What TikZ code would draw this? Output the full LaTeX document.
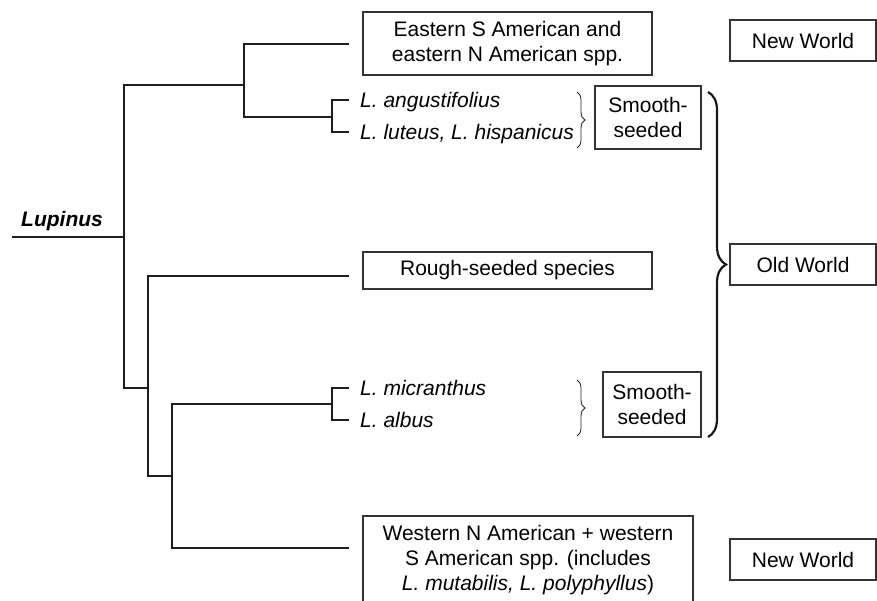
\documentclass[tikz,border=0pt]{standalone}
\usepackage{fontspec}
\setmainfont{Liberation Sans}
\usetikzlibrary{decorations.pathreplacing}
\begin{document}
\begin{tikzpicture}[x=1pt,y=-1pt,
  tree/.style={line width=2.2pt, draw=black!88},
  box/.style={draw=black!80, line width=1.1pt, inner sep=0pt, align=center,
    font=\fontsize{21}{25}\selectfont},
  taxon/.style={inner sep=0pt, anchor=base west, font=\fontsize{21}{25}\selectfont\itshape},
  smallbrace/.style={decorate, decoration={brace, amplitude=8pt}, line width=0.9pt, draw=black!85},
  bigbrace/.style={decorate, decoration={brace, amplitude=18pt}, line width=2.2pt, draw=black!90}
]
\useasboundingbox (0,0) rectangle (877,601);
\clip (0,0) rectangle (877,601);

% ---- boxes ----
\node[box, minimum width=289, minimum height=63] (eastern) at (507.5,43.5)
  {Eastern S American and\\eastern N American spp.};
\node[box, minimum width=289, minimum height=37] (rough) at (507.5,270.5)
  {Rough-seeded species};
\node[box, minimum width=330, minimum height=89] (western) at (528,560.5)
  {Western N American + western\\S American spp. (includes\\\textit{L. mutabilis, L. polyphyllus})};
\node[box, minimum width=106, minimum height=63] (smoothA) at (648,117.5) {Smooth-\\seeded};
\node[box, minimum width=98, minimum height=65] (smoothB) at (652,404.5) {Smooth-\\seeded};
\node[box, minimum width=146, minimum height=41] (newA) at (803,40.5) {New World};
\node[box, minimum width=146, minimum height=41] (old) at (803,264.5) {Old World};
\node[box, minimum width=146, minimum height=41] (newB) at (803,559.5) {New World};

% ---- taxon labels ----
\node[taxon] (ang) at (360,107.5) {L. angustifolius};
\node[taxon] (lut) at (360,139.5) {L. luteus, L. hispanicus};
\node[taxon] (mic) at (360,395.5) {L. micranthus};
\node[taxon] (alb) at (360,427.5) {L. albus};
\node[inner sep=0pt, anchor=base west, font=\fontsize{21}{25}\selectfont\bfseries\itshape]
  (lupinus) at (21,227) {Lupinus};

% ---- tree junctions and branch tips ----
\coordinate (base) at (12,237);
\coordinate (j0) at (124,237);
\coordinate (j1) at (244,85);
\coordinate (j2) at (332,117);
\coordinate (j3) at (148,388);
\coordinate (j4) at (172,476);
\coordinate (j5) at (332,404);
\coordinate (tEast) at (349,44);
\coordinate (tAng) at (349,100);
\coordinate (tLut) at (349,132);
\coordinate (tRough) at (349,276);
\coordinate (tMic) at (349,388);
\coordinate (tAlb) at (349,420);
\coordinate (tWest) at (349,548);

\draw[tree] (base) -- (j0);
\draw[tree] (j0) |- (j1);
\draw[tree] (j0) |- (j3);
\draw[tree] (j1) |- (tEast);
\draw[tree] (j1) |- (j2);
\draw[tree] (j2) |- (tAng);
\draw[tree] (j2) |- (tLut);
\draw[tree] (j3) |- (tRough);
\draw[tree] (j3) |- (j4);
\draw[tree] (j4) |- (j5);
\draw[tree] (j4) |- (tWest);
\draw[tree] (j5) |- (tMic);
\draw[tree] (j5) |- (tAlb);

% ---- braces ----
\draw[smallbrace] (577,92) -- (577,148);
\draw[smallbrace] (577,380) -- (577,436);
\draw[bigbrace] (708,92) -- (708,437);
\end{tikzpicture}
\end{document}
